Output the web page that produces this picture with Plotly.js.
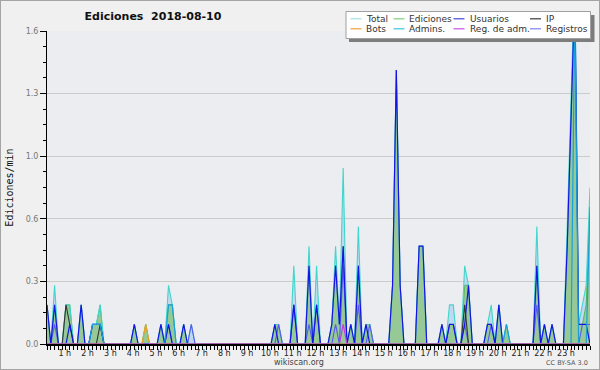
<!DOCTYPE html>
<html><head><meta charset="utf-8">
<script src="https://cdn.plot.ly/plotly-3.0.1.min.js"></script>
<style>
html,body{margin:0;padding:0;background:#f0f0f0;}
#wrap{position:relative;width:600px;height:370px;overflow:hidden;}
#chart{width:600px;height:370px;}
#frame{position:absolute;left:0;top:0;width:598px;height:368px;border:1px solid #a4a4a4;pointer-events:none;}
</style></head><body>
<div id="wrap"><div id="chart"></div><div id="frame"></div></div>
<script>
// 10-minute bins, 00:00 .. 23:50 (edits per minute)
const total = [
 0.2,0,0.3,0,0,0.2,0.2,0,0,0.2,0,0,
 0.1,0.1,0.2,0,0,0,0,0,0,0,0,0.1,
 0,0,0.1,0,0,0,0.1,0,0.3,0.2,0,0,
 0.1,0,0.1,0,0,0,0,0,0,0,0,0,
 0,0,0,0,0,0,0,0,0,0,0,0,
 0.1,0.1,0,0,0,0.4,0,0,0,0.5,0,0.4,
 0,0,0,0.1,0.5,0.1,0.9,0,0.1,0,0.6,0,
 0.1,0.1,0,0,0,0,0,0.3,1.4,0.3,0,0,
 0,0,0.5,0.5,0,0,0,0,0.1,0,0.2,0.2,
 0,0,0.4,0.3,0,0,0,0,0.1,0.2,0,0.2,
 0,0.1,0,0,0,0,0,0,0,0.6,0,0.1,
 0,0.1,0,0,0,0.6,1.2,1.9,0.1,0.2,0.3,0.8
];
const ediciones = [
 0.2,0,0.2,0,0,0.2,0.2,0,0,0.2,0,0,
 0.1,0.1,0.2,0,0,0,0,0,0,0,0,0.1,
 0,0,0.1,0,0,0,0.1,0,0.2,0.2,0,0,
 0.1,0,0,0,0,0,0,0,0,0,0,0,
 0,0,0,0,0,0,0,0,0,0,0,0,
 0.1,0.1,0,0,0,0.2,0,0,0,0.4,0,0.2,
 0,0,0,0.1,0.4,0.1,0.5,0,0.1,0,0.4,0,
 0.1,0.1,0,0,0,0,0,0.3,1.4,0.3,0,0,
 0,0,0.5,0.5,0,0,0,0,0.1,0,0.1,0.1,
 0,0,0.3,0.3,0,0,0,0,0.1,0.1,0,0.2,
 0,0.1,0,0,0,0,0,0,0,0.4,0,0.1,
 0,0.1,0,0,0,0.5,1.1,1.8,0.1,0.1,0.2,0.7
];
const usuarios = [
 0.2,0,0.2,0,0,0,0.1,0,0,0.2,0,0,
 0.1,0.1,0.1,0,0,0,0,0,0,0,0,0.1,
 0,0,0,0,0,0,0.1,0,0.1,0,0,0,
 0.1,0,0,0,0,0,0,0,0,0,0,0,
 0,0,0,0,0,0,0,0,0,0,0,0,
 0.1,0,0,0,0,0.2,0,0,0,0.4,0,0.2,
 0,0,0,0.1,0.4,0.1,0.5,0,0.1,0,0.4,0,
 0.1,0,0,0,0,0,0,0.3,1.4,0.3,0,0,
 0,0,0.5,0.5,0,0,0,0,0.1,0,0.1,0.1,
 0,0,0.1,0.3,0,0,0,0,0.1,0.1,0,0.2,
 0,0,0,0,0,0,0,0,0,0.4,0,0.1,
 0,0.1,0,0,0,0.5,1.1,1.8,0.1,0.1,0.1,0
];
const ip = [
 0,0,0,0,0,0.2,0.1,0,0,0,0,0,
 0,0,0.1,0,0,0,0,0,0,0,0,0,
 0,0,0,0,0,0,0,0,0,0,0,0,
 0,0,0,0,0,0,0,0,0,0,0,0,
 0,0,0,0,0,0,0,0,0,0,0,0,
 0,0,0,0,0,0,0,0,0,0,0,0,
 0,0,0,0,0,0,0,0,0,0,0,0,
 0,0,0,0,0,0,0,0,0,0,0,0,
 0,0,0,0,0,0,0,0,0,0,0,0,
 0,0,0.2,0,0,0,0,0,0,0,0,0,
 0,0,0,0,0,0,0,0,0,0,0,0,
 0,0,0,0,0,0,0,0,0,0,0,0
];
const admins = [
 0,0,0,0,0,0,0,0,0,0,0,0,
 0.1,0.1,0.1,0,0,0,0,0,0,0,0,0,
 0,0,0,0,0,0,0,0,0.2,0.2,0,0,
 0,0,0,0,0,0,0,0,0,0,0,0,
 0,0,0,0,0,0,0,0,0,0,0,0,
 0,0,0,0,0,0,0,0,0,0,0,0,
 0,0,0,0,0,0,0,0,0,0,0,0,
 0,0,0,0,0,0,0,0,0,0,0,0,
 0,0,0,0,0,0,0,0,0,0,0,0,
 0,0,0,0,0,0,0,0,0,0,0,0,
 0,0.1,0,0,0,0,0,0,0,0,0,0,
 0,0,0,0,0,0,0,1.7,0,0,0,0.7
];
const registros = [
 0,0,0.1,0,0,0,0,0,0,0,0,0,
 0,0,0,0,0,0,0,0,0,0,0,0,
 0,0,0,0,0,0,0,0,0.1,0,0,0,
 0,0,0.1,0,0,0,0,0,0,0,0,0,
 0,0,0,0,0,0,0,0,0,0,0,0,
 0,0.1,0,0,0,0.2,0,0,0,0.1,0,0.2,
 0,0,0,0,0.1,0,0.4,0,0,0,0.2,0,
 0,0.1,0,0,0,0,0,0,0,0,0,0,
 0,0,0,0,0,0,0,0,0,0,0.1,0.1,
 0,0,0.1,0,0,0,0,0,0,0.1,0,0,
 0,0,0,0,0,0,0,0,0,0.2,0,0,
 0,0,0,0,0,0,0,0,0,0.1,0.1,0.1
];
const bots = [
 0,0,0,0,0,0,0,0,0,0,0,0,
 0,0,0,0,0,0,0,0,0,0,0,0,
 0,0,0.1,0,0,0,0,0,0,0,0,0,
 0,0,0,0,0,0,0,0,0,0,0,0,
 0,0,0,0,0,0,0,0,0,0,0,0,
 0,0,0,0,0,0,0,0,0,0,0,0,
 0,0,0,0,0,0,0,0,0,0,0,0,
 0,0,0,0,0,0,0,0,0,0,0,0,
 0,0,0,0,0,0,0,0,0,0,0,0,
 0,0,0,0,0,0,0,0,0,0,0,0,
 0,0,0,0,0,0,0,0,0,0,0,0,
 0,0,0,0,0,0,0,0,0,0,0,0
];
const regAdm = [
 0,0,0,0,0,0,0,0,0,0,0,0,
 0,0,0,0,0,0,0,0,0,0,0,0,
 0,0,0,0,0,0,0,0,0,0,0,0,
 0,0,0,0,0,0,0,0,0,0,0,0,
 0,0,0,0,0,0,0,0,0,0,0,0,
 0,0,0,0,0,0,0,0,0,0,0,0,
 0,0,0,0,0,0,0.1,0,0,0,0,0,
 0,0,0,0,0,0,0,0,0,0,0,0,
 0,0,0,0,0,0,0,0,0,0,0,0,
 0,0,0,0,0,0,0,0,0,0,0,0,
 0,0,0,0,0,0,0,0,0,0,0,0,
 0,0,0,0,0,0,0,0,0,0,0,0
];
const hourTicks = [1,2,3,4,5,6,7,8,9,10,11,12,13,14,15,16,17,18,19,20,21,22,23];
const hourLabels = ['1 h','2 h','3 h','4 h','5 h','6 h','7 h','8 h','9 h','10 h','11 h','12 h','13 h','14 h','15 h','16 h','17 h','18 h','19 h','20 h','21 h','22 h','23 h'];
const yTicks = [0,0.32,0.64,0.96,1.28,1.6];
const yLabels = ['0.0','0.3','0.6','1.0','1.3','1.6'];
const legendNames = ['Total','Ediciones','Usuarios','IP','Bots','Admins.','Reg. de adm.','Registros'];
const legendColors = ['#9fe2de','#7fcf7f','#4444dd','#3a3a3a','#f0a040','#3cc4e0','#cc50e6','#8080f0'];

// time of each bin in hours
const times = total.map((_, i) => i / 6);

const line = (y, color, w) => ({x: times, y: y, type: 'scatter', mode: 'lines',
  line: {color: color, width: w}, hoverinfo: 'skip', showlegend: false});

const data = [
  {x: times, y: total, type: 'scatter', mode: 'lines', line: {width: 0, color: 'rgba(0,0,0,0)'},
   fill: 'tozeroy', fillcolor: 'rgba(185,212,240,0.85)', hoverinfo: 'skip', showlegend: false},
  {x: times, y: ediciones, type: 'scatter', mode: 'lines', line: {width: 1, color: '#58b858'},
   fill: 'tozeroy', fillcolor: '#97c997', hoverinfo: 'skip', showlegend: false},
  line(total, '#3fd6cc', 1.1),
  line(registros, '#5a5af2', 1.1),
  line(ip, '#333333', 1.1),
  line(usuarios, '#1414e6', 1.2),
  line(admins, '#1aa0da', 1.2),
  line(bots, '#f0a020', 1.2),
  line(regAdm, '#c040e0', 1.2)
];

// plot area in pixels: x 47..590, y 31..344
const PX = X => (X - 47) / 543;
const PY = Y => (344 - Y) / 313;

const shapes = [
  {type: 'rect', xref: 'paper', yref: 'paper', x0: PX(349), x1: PX(594.5), y0: PY(42), y1: PY(15),
   fillcolor: '#7d7d7d', line: {width: 0}, layer: 'above'},
  {type: 'rect', xref: 'paper', yref: 'paper', x0: PX(346), x1: PX(590.5), y0: PY(38.5), y1: PY(11.5),
   fillcolor: '#ffffff', line: {width: 1, color: '#a0a0a0'}, layer: 'above'}
];
const annotations = [];
const colSample = [350.5, 393.5, 453.5, 530];
const colText = [365, 407.5, 468.5, 544.5];
const rowY = [18.8, 28.8];
legendNames.forEach((name, k) => {
  const c = k % 4, r = Math.floor(k / 4);
  shapes.push({type: 'line', xref: 'paper', yref: 'paper', x0: PX(colSample[c]), x1: PX(colSample[c] + 11),
    y0: PY(rowY[r]), y1: PY(rowY[r]), line: {color: legendColors[k], width: 1.2}, layer: 'above'});
  annotations.push({xref: 'paper', yref: 'paper', x: PX(colText[c]), y: PY(rowY[r]), xanchor: 'left', yanchor: 'middle',
    text: name, showarrow: false, borderpad: 0, font: {family: 'DejaVu Sans', size: 9, color: '#333'}});
});
annotations.push({xref: 'paper', yref: 'paper', x: PX(299), y: PY(362), xanchor: 'center', yanchor: 'middle',
  text: 'wikiscan.org', showarrow: false, borderpad: 0, font: {family: 'DejaVu Sans', size: 8, color: '#444'}});
annotations.push({xref: 'paper', yref: 'paper', x: PX(589), y: PY(362.5), xanchor: 'right', yanchor: 'middle',
  text: 'CC BY-SA 3.0', showarrow: false, borderpad: 0, font: {family: 'DejaVu Sans', size: 6.5, color: '#555'}});

const layout = {
  width: 600, height: 370,
  margin: {l: 47, r: 10, t: 31, b: 26, pad: 0},
  paper_bgcolor: '#f0f0f0', plot_bgcolor: '#ecedf0',
  font: {family: 'DejaVu Sans', size: 8, color: '#333'},
  title: {text: 'Ediciones \u00a02018-08-10', font: {family: 'DejaVu Sans', size: 11, color: '#111', weight: 'bold'},
    x: 153 / 600, xref: 'container', xanchor: 'center', y: 1 - 16.5 / 370, yref: 'container', yanchor: 'middle'},
  xaxis: {range: [0, 143 / 6], tickmode: 'array', tickvals: hourTicks, ticktext: hourLabels,
    ticks: 'outside', ticklen: 4, tickwidth: 1, tickcolor: '#000', showline: true, linecolor: '#000', linewidth: 2,
    showgrid: false, zeroline: false, ticklabelshift: -5, ticklabelstandoff: -4,
    tickfont: {family: 'DejaVu Sans', size: 8, color: '#222'},
    minor: {tickmode: 'linear', tick0: 0, dtick: 1 / 6, ticks: 'outside', ticklen: 4, tickwidth: 1, tickcolor: '#000', showgrid: false},
    fixedrange: true},
  yaxis: {range: [0, 1.6], tickmode: 'array', tickvals: yTicks, ticktext: yLabels,
    ticks: 'outside', ticklen: 6, tickwidth: 1, tickcolor: '#000', showline: true, linecolor: '#000', linewidth: 1,
    gridcolor: '#cbcbcb', gridwidth: 1, zeroline: false, tickfont: {family: 'DejaVu Sans', size: 8, color: '#777'},
    minor: {tickmode: 'linear', tick0: 0, dtick: 0.08, ticks: 'outside', ticklen: 3, tickwidth: 1, tickcolor: '#000', showgrid: false},
    title: {text: 'Ediciones/min', font: {family: 'DejaVu Sans Mono', size: 10, color: '#111'}, standoff: 10},
    automargin: false, fixedrange: true},
  showlegend: false,
  shapes: shapes,
  annotations: annotations
};

Plotly.newPlot('chart', data, layout, {displayModeBar: false, staticPlot: true});
</script>
</body></html>
